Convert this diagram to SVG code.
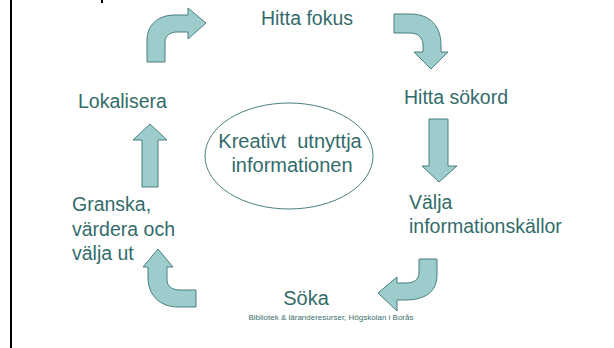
<svg xmlns="http://www.w3.org/2000/svg" width="614" height="348" viewBox="0 0 614 348">
<style>
.lbl{font-family:"Liberation Sans",Arial,sans-serif;font-size:19.5px;fill:#336b6b}
.cap{font-family:"Liberation Sans",Arial,sans-serif;font-size:8px;fill:#3d6e6e}
.arr{fill:#9ccccb;stroke:#4a7f7f;stroke-width:1}
</style>
<rect width="614" height="348" fill="#fff"/>
<line x1="11" y1="0" x2="11" y2="348" stroke="#000" stroke-width="2"/>
<rect x="101" y="0" width="2" height="3" fill="#000"/>
<g id="connectors">
<path class="arr" d="M147,62 L147,40 C147,25 158,15 175,15 L188,15 L188,8 L206,23 L188,39 L188,32 L177,32 C170,32 165,36 165,42 L165,62 Z"/>
<path class="arr" d="M394,14 L410,14 C430,14 441,26 441,45 L441,52 L448,52 L431,69 L414,52 L423,52 L423,45 C423,38 418,33 410,33 L394,33 Z"/>
<path class="arr" d="M429,119 L448,119 L448,166 L457,166 L439,182 L422,166 L429,166 Z"/>
<path class="arr" d="M419,259 L437,259 L437,275 C437,292 425,300 405,300 L397,300 L397,311 L378,293 L397,277 L397,283 L405,283 C414,283 419,280 419,272 Z"/>
<path class="arr" d="M196,290 L196,307 L178,307 C160,307 148,295 148,278 L148,267 L143,267 L158,249 L173,267 L167,267 L167,280 C167,286 172,290 180,290 Z"/>
<path class="arr" d="M142,187 L142,140 L133,140 L150,124 L167,140 L158,140 L158,187 Z"/>
</g>
<g id="hitta-fokus"><text class="lbl" x="307" y="25" text-anchor="middle">Hitta fokus</text></g>
<g id="hitta-sokord"><text class="lbl" x="404" y="104">Hitta sökord</text></g>
<g id="valja"><text class="lbl" x="409" y="209">Välja</text><text class="lbl" x="409" y="233">informationskällor</text></g>
<g id="soka"><text class="lbl" x="306" y="305" text-anchor="middle" style="font-size:20px">Söka</text></g>
<g id="granska"><text class="lbl" x="72" y="211">Granska,</text><text class="lbl" x="72" y="236">värdera och</text><text class="lbl" x="72" y="260">välja ut</text></g>
<g id="lokalisera"><text class="lbl" x="78" y="108">Lokalisera</text></g>
<g id="center">
<ellipse cx="289" cy="156" rx="84" ry="53" fill="#fff" stroke="#4a7f7f" stroke-width="1"/>
<text class="lbl" x="290" y="148" text-anchor="middle" style="font-size:20px;white-space:pre" xml:space="preserve">Kreativt  utnyttja</text>
<text class="lbl" x="292" y="172" text-anchor="middle" style="font-size:20px">informationen</text>
</g>
<g id="caption"><text class="cap" x="331" y="320" text-anchor="middle">Bibliotek &amp; läranderesurser, Högskolan i Borås</text></g>
</svg>
